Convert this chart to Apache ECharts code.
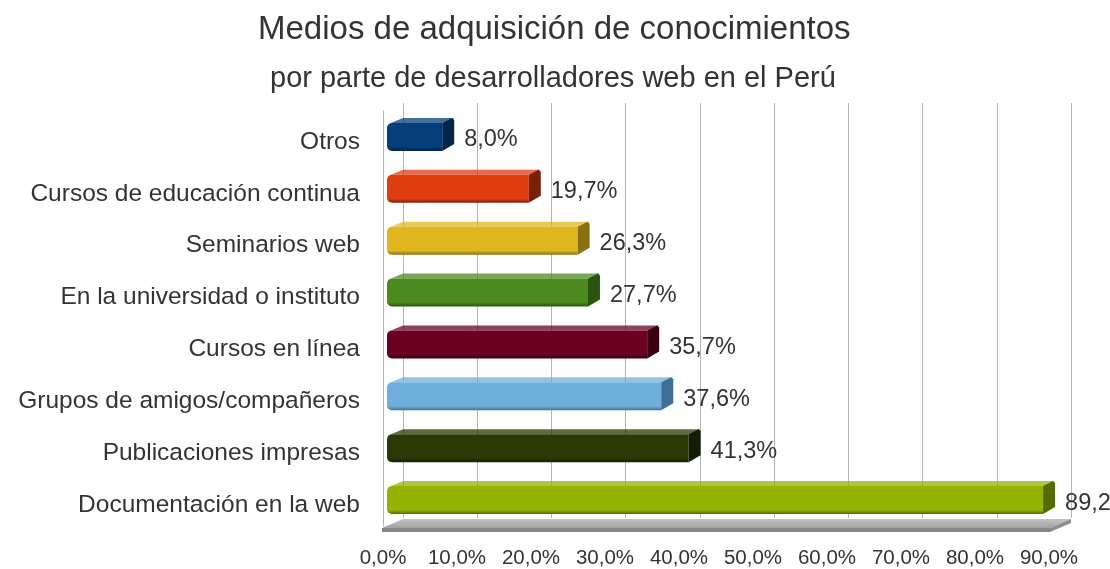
<!DOCTYPE html>
<html>
<head>
<meta charset="utf-8">
<script src="https://cdn.jsdelivr.net/npm/echarts@6/dist/echarts.min.js"></script>
<style>
  html, body { margin: 0; padding: 0; background: #fff; }
  #chart { width: 1110px; height: 569px; }
</style>
</head>
<body>
<div id="chart"></div>
<script>
// data
var categories = ['Otros', 'Cursos de educación continua', 'Seminarios web',
  'En la universidad o instituto', 'Cursos en línea', 'Grupos de amigos/compañeros',
  'Publicaciones impresas', 'Documentación en la web'];
var values = [8.0, 19.7, 26.3, 27.7, 35.7, 37.6, 41.3, 89.2];
var barColors = ['#053f7a', '#e03c10', '#dfb820', '#4b8a1d', '#6b0022', '#70afdd', '#2b3a05', '#94b300'];
var sideColors = ['#02244a', '#7a2008', '#8a7010', '#2b5410', '#3a0012', '#3f6f94', '#141c02', '#556a00'];
var tickLabels = ['0,0%', '10,0%', '20,0%', '30,0%', '40,0%', '50,0%', '60,0%', '70,0%', '80,0%', '90,0%'];

var FONT = 'Liberation Sans, Arial, sans-serif';
var myChart = echarts.init(document.getElementById('chart'));

function fmt(v) {
  return v.toFixed(1).replace('.', ',') + '%';
}

var option = {
  animation: false,
  title: [
    { text: 'Medios de adquisición de conocimientos', left: 253, top: 8,
      textStyle: { fontFamily: FONT, fontSize: 33, fontWeight: 'normal', color: '#333' } },
    { text: 'por parte de desarrolladores web en el Perú', left: 265, top: 59,
      textStyle: { fontFamily: FONT, fontSize: 29, fontWeight: 'normal', color: '#333' } }
  ],
  grid: [
    // back wall
    { left: 403, right: 39, top: 103, bottom: 51 },
    // front plane
    { left: 383, right: 61, top: 111, bottom: 43 }
  ],
  xAxis: [
    { gridIndex: 0, type: 'value', min: 0, max: 90, interval: 10,
      axisLabel: { show: false }, axisLine: { show: false }, axisTick: { show: false },
      splitLine: { show: true, lineStyle: { color: '#b4b4b4', width: 1 } } },
    { gridIndex: 1, type: 'value', min: 0, max: 90, interval: 10,
      axisLine: { show: false }, axisTick: { show: false }, splitLine: { show: false },
      axisLabel: { margin: 22, fontFamily: FONT, fontSize: 20.5, color: '#333',
        formatter: function (v) { return tickLabels[Math.round(v / 10)]; } } }
  ],
  yAxis: [
    { gridIndex: 0, type: 'category', data: categories, inverse: true, show: false },
    { gridIndex: 1, type: 'category', data: categories, inverse: true,
      axisLine: { show: true, lineStyle: { color: '#b4b4b4' } },
      axisTick: { show: false },
      axisLabel: { margin: 23, fontFamily: FONT, fontSize: 24.5, color: '#333',
        verticalAlign: 'top', lineHeight: 10 } }
  ],
  graphic: [
    // floor
    { type: 'polygon', z: 0, shape: { points: [[382, 528], [1050, 528], [1071, 519], [403, 519]] },
      style: { fill: new echarts.graphic.LinearGradient(0, 0, 0, 1, [
        { offset: 0, color: '#c4c4c4' }, { offset: 1, color: '#a2a2a2' }]) } },
    { type: 'polygon', z: 0, shape: { points: [[382, 528], [1050, 528], [1050, 532], [382, 532]] },
      style: { fill: '#858585' } },
    { type: 'polygon', z: 0, shape: { points: [[1050, 528], [1071, 519], [1071, 523], [1050, 532]] },
      style: { fill: '#8e8e8e' } }
  ],
  series: [{
    type: 'custom',
    xAxisIndex: 1,
    yAxisIndex: 1,
    data: values.map(function (v, i) { return [v, i]; }),
    renderItem: function (params, api) {
      var i = api.value(1);
      var v = api.value(0);
      var start = api.coord([0, i]);
      var end = api.coord([v, i]);
      var h = 28;
      var x0 = start[0] + 4;
      var x1 = end[0];
      var yTop = end[1] - h / 2;
      var yBot = end[1] + h / 2;
      var dx = 12, dy = 5;
      return {
        type: 'group',
        children: [
          { type: 'polygon',
            shape: { points: [[x0 + 4, yTop], [x1, yTop], [x1 + dx, yTop - dy], [x0 + 4 + dx, yTop - dy]] },
            style: { fill: barColors[i], opacity: 0.75 } },
          { type: 'rect',
            shape: { x: x0, y: yTop, width: x1 - x0, height: h, r: [5, 0, 0, 5] },
            style: { fill: new echarts.graphic.LinearGradient(0, 0, 0, 1, [
              { offset: 0, color: barColors[i] },
              { offset: 0.85, color: barColors[i] },
              { offset: 1, color: sideColors[i] }]) } },
          { type: 'polygon',
            shape: { points: [[x1, yTop], [x1 + dx - 2, yTop - dy], [x1 + dx, yTop - dy + 2],
              [x1 + dx, yBot - dy - 2], [x1, yBot]] },
            style: { fill: sideColors[i] } },
          { type: 'text',
            style: { text: fmt(v), x: x1 + dx + 10, y: end[1] + 3, verticalAlign: 'middle',
              fontFamily: FONT, fontSize: 23.5, fill: '#333' } }
        ]
      };
    }
  }]
};

myChart.setOption(option, true);
</script>
</body>
</html>
